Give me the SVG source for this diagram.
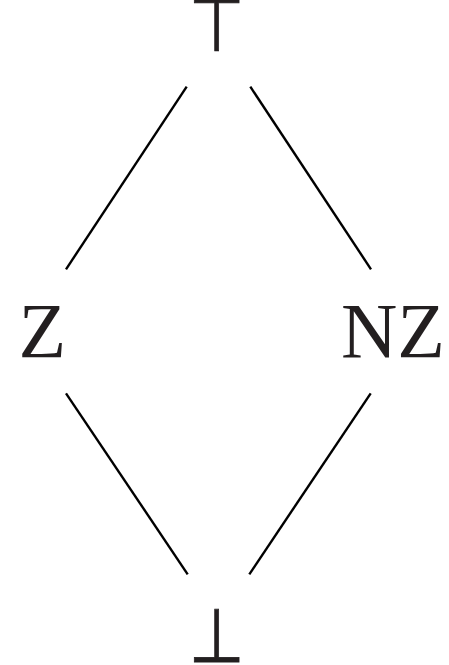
<svg xmlns="http://www.w3.org/2000/svg" width="449" height="665" viewBox="0 0 449 665">
  <style>
    .lbl { font-family: "Liberation Serif", "Times New Roman", serif; font-size: 78px; fill: #231f20; }
    .sym { font-family: "DejaVu Sans", sans-serif; font-size: 64px; fill: #231f20; stroke: #231f20; stroke-width: 0.7; text-anchor: middle; }
    .edge { stroke: #000; stroke-width: 2.4; stroke-linecap: butt; fill: none; }
  </style>
  <rect width="449" height="665" fill="#fff"/>
  <g id="connectors">
    <line class="edge" x1="186.7" y1="86.7" x2="66" y2="269.3"/>
    <line class="edge" x1="250.3" y1="86.7" x2="371" y2="269.3"/>
    <line class="edge" x1="66" y1="393.3" x2="187.7" y2="574.3"/>
    <line class="edge" x1="370.7" y1="393.3" x2="249.3" y2="574.3"/>
  </g>
  <!-- lattice top element, slightly stretched to a tall tack -->
  <g id="top" transform="translate(216.8 51) scale(1 1.18)">
    <text class="sym" x="0" y="0">⊤</text>
  </g>
  <g id="z">
    <text class="lbl" x="18.5" y="357">Z</text>
  </g>
  <g id="nz">
    <text class="lbl" x="341" y="357">NZ</text>
  </g>
  <!-- lattice bottom element -->
  <g id="bottom" transform="translate(216.8 662) scale(1 1.18)">
    <text class="sym" x="0" y="0">⊥</text>
  </g>
</svg>
